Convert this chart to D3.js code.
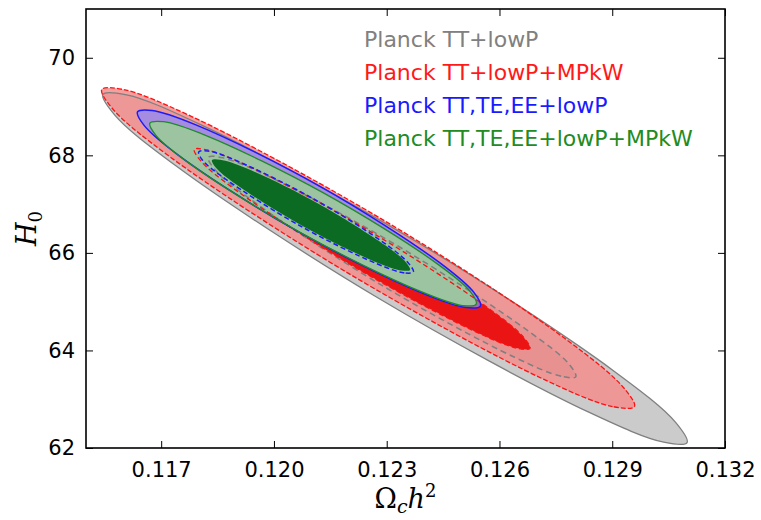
<!DOCTYPE html>
<html>
<head>
<meta charset="utf-8">
<script src="https://cdn.jsdelivr.net/npm/d3@7/dist/d3.min.js"></script>
<style>
  html, body { margin: 0; padding: 0; background: #fff; }
  svg { display: block; }
</style>
</head>
<body>
<svg id="chart" width="761" height="520"></svg>
<script>
// ---- data (Omega_c h^2, H0) ----
const xTicks = [0.117, 0.120, 0.123, 0.126, 0.129, 0.132];
const xTickLabels = ["0.117", "0.120", "0.123", "0.126", "0.129", "0.132"];
const yTicks = [62, 64, 66, 68, 70];
const yTickLabels = ["62", "64", "66", "68", "70"];
const xDomain = [0.115, 0.132];
const yDomain = [62, 71];

const legendLabels = ["Planck TT+lowP", "Planck TT+lowP+MPkW", "Planck TT,TE,EE+lowP", "Planck TT,TE,EE+lowP+MPkW"];

// Planck TT+lowP, 95% and 68% contours
const tt95 = [[0.13099,62.11],[0.13037,62.12],[0.12839,62.73],[0.12276,65.08],[0.11740,67.78],[0.11576,68.83],
              [0.11545,69.25],[0.11608,69.24],[0.11805,68.63],[0.12368,66.28],[0.12904,63.58],[0.13068,62.53]];
const tt68 = [[0.12803,63.46],[0.12764,63.47],[0.12640,63.86],[0.12286,65.34],[0.11948,67.04],[0.11845,67.69],
              [0.11825,67.96],[0.11864,67.95],[0.11988,67.56],[0.12343,66.08],[0.12680,64.38],[0.12784,63.73]];
// Planck TT+lowP+MPkW
const ttMpk95 = [[0.12959,62.85],[0.12901,62.85],[0.12720,63.40],[0.12207,65.54],[0.11718,68.00],[0.11569,68.97],
                 [0.11542,69.35],[0.11599,69.35],[0.11780,68.80],[0.12294,66.66],[0.12782,64.20],[0.12931,63.23]];
const ttMpk68 = [[0.12681,64.04],[0.12645,64.05],[0.12532,64.40],[0.12208,65.74],[0.11900,67.28],[0.11806,67.88],
                 [0.11788,68.12],[0.11823,68.11],[0.11937,67.76],[0.12260,66.42],[0.12568,64.88],[0.12663,64.28]];
// Planck TT,TE,EE+lowP
const tte95 = [[0.12549,64.91],[0.12511,64.88],[0.12393,65.18],[0.12061,66.45],[0.11748,67.99],[0.11654,68.62],
               [0.11637,68.89],[0.11676,68.92],[0.11794,68.62],[0.12126,67.35],[0.12439,65.81],[0.12533,65.18]];
const tte68 = [[0.12371,65.61],[0.12347,65.59],[0.12273,65.78],[0.12066,66.57],[0.11870,67.52],[0.11810,67.90],
               [0.11800,68.07],[0.11824,68.09],[0.11897,67.90],[0.12105,67.11],[0.12301,66.16],[0.12360,65.77]];
// Planck TT,TE,EE+lowP+MPkW
const tteMpk95 = [[0.12538,64.95],[0.12502,64.92],[0.12390,65.21],[0.12074,66.40],[0.11776,67.83],[0.11686,68.41],
                  [0.11670,68.66],[0.11706,68.69],[0.11818,68.41],[0.12134,67.22],[0.12432,65.79],[0.12522,65.21]];
const tteMpk68 = [[0.12362,65.65],[0.12340,65.64],[0.12272,65.81],[0.12081,66.53],[0.11900,67.40],[0.11845,67.75],
                  [0.11835,67.90],[0.11857,67.91],[0.11925,67.74],[0.12116,67.02],[0.12297,66.15],[0.12352,65.80]];

// ---- layout ----
const svg = d3.select("#chart");
const L = 86, R = 725, T = 9, B = 448;
const x = d3.scaleLinear().domain(xDomain).range([L, R]);
const y = d3.scaleLinear().domain(yDomain).range([B, T]);

svg.append("defs").append("clipPath").attr("id", "plotclip")
  .append("rect").attr("x", L).attr("y", T).attr("width", R - L).attr("height", B - T);

const g = svg.append("g").attr("clip-path", "url(#plotclip)");
const line = d3.line().x(d => x(d[0])).y(d => y(d[1])).curve(d3.curveCatmullRomClosed.alpha(0.5));

// fills (drawn first)
const fills = [
  {d: tt95, fill: "#cbcbcb", op: 1},
  {d: tt68, fill: "#a0a0a0", op: 1},
  {d: ttMpk95, fill: "#f48e8e", op: 0.85},
  {d: ttMpk68, fill: "#ea1010", op: 0.97},
  {d: tte95, fill: "#8888ff", op: 0.7},
  {d: tte68, fill: "#5555ee", op: 0.7},
  {d: tteMpk95, fill: "#9cc4a0", op: 1},
  {d: tteMpk68, fill: "#0b6b22", op: 1}
];
g.selectAll("path.fill").data(fills).join("path")
  .attr("class", "fill")
  .attr("d", f => line(f.d))
  .attr("fill", f => f.fill)
  .attr("fill-opacity", f => f.op)
  .attr("stroke", "none");

// contour lines on top
const strokes = [
  {d: tt95, c: "#7f7f7f", w: 1.3, dash: null},
  {d: tt68, c: "#7f7f7f", w: 1.5, dash: "6,4"},
  {d: ttMpk95, c: "#ff1010", w: 1.3, dash: "5,2"},
  {d: ttMpk68, c: "#ff1010", w: 1.3, dash: "5,3"},
  {d: tte95, c: "#1a1aff", w: 1.5, dash: null},
  {d: tte68, c: "#1a1aff", w: 1.5, dash: "5,3"},
  {d: tteMpk95, c: "#1e8a28", w: 1.3, dash: null}
];
g.selectAll("path.line").data(strokes).join("path")
  .attr("class", "line")
  .attr("d", s => line(s.d))
  .attr("fill", "none")
  .attr("stroke", s => s.c)
  .attr("stroke-width", s => s.w)
  .attr("stroke-dasharray", s => s.dash);

// ---- axes ----
const fontTick = "DejaVu Sans, sans-serif";
const xAxisB = d3.axisBottom(x).tickValues(xTicks).tickSizeInner(-7).tickSizeOuter(0).tickPadding(14)
  .tickFormat((d, i) => xTickLabels[i]);
const xAxisT = d3.axisTop(x).tickValues(xTicks).tickSizeInner(-7).tickSizeOuter(0).tickFormat("");
const yAxisL = d3.axisLeft(y).tickValues(yTicks).tickSizeInner(-7).tickSizeOuter(0).tickPadding(11)
  .tickFormat((d, i) => yTickLabels[i]);
const yAxisR = d3.axisRight(y).tickValues(yTicks).tickSizeInner(-7).tickSizeOuter(0).tickFormat("");

function styleAxis(sel) {
  sel.select(".domain").remove();
  sel.selectAll(".tick line").attr("stroke", "#000").attr("stroke-width", 1);
  sel.selectAll(".tick text").attr("font-family", fontTick).attr("font-size", 21).attr("fill", "#000");
}
svg.append("g").attr("transform", `translate(0,${B})`).call(xAxisB).call(styleAxis);
svg.append("g").attr("transform", `translate(0,${T})`).call(xAxisT).call(styleAxis);
svg.append("g").attr("transform", `translate(${L},0)`).call(yAxisL).call(styleAxis);
svg.append("g").attr("transform", `translate(${R},0)`).call(yAxisR).call(styleAxis);

// frame
svg.append("rect").attr("x", L).attr("y", T).attr("width", R - L).attr("height", B - T)
  .attr("fill", "none").attr("stroke", "#000").attr("stroke-width", 1.6);

// axis labels
const xl = svg.append("text").attr("x", (L + R) / 2).attr("y", 508).attr("text-anchor", "middle")
  .attr("font-family", "DejaVu Serif, serif").attr("font-size", 27).attr("fill", "#000");
xl.append("tspan").text("Ω");
xl.append("tspan").attr("font-style", "italic").attr("font-size", 19).attr("dy", 5).text("c");
xl.append("tspan").attr("font-style", "italic").attr("dy", -5).text("h");
xl.append("tspan").attr("font-size", 18).attr("dy", -11).text("2");

const yl = svg.append("text").attr("transform", `translate(36,${(T + B) / 2}) rotate(-90)`)
  .attr("text-anchor", "middle")
  .attr("font-family", "DejaVu Serif, serif").attr("font-size", 27).attr("font-style", "italic").attr("fill", "#000");
yl.append("tspan").text("H");
yl.append("tspan").attr("font-size", 18).attr("font-style", "normal").attr("dy", 6).text("0");

// legend
const legendColors = ["#808080", "#ff1a1a", "#1a1aff", "#228b22"];
svg.append("g").selectAll("text").data(legendLabels).join("text")
  .attr("x", 364).attr("y", (d, i) => 47 + i * 33)
  .attr("font-family", fontTick).attr("font-size", 22)
  .attr("fill", (d, i) => legendColors[i])
  .text(d => d);
</script>
</body>
</html>
